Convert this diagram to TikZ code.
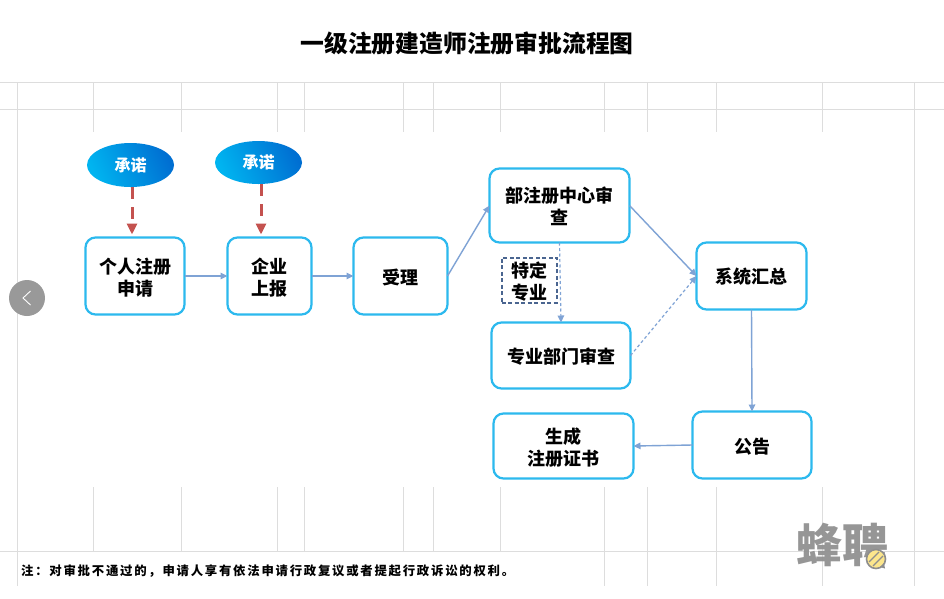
\documentclass[tikz,border=0pt]{standalone}
\usepackage{fontspec}
\usetikzlibrary{arrows.meta,calc,shapes.geometric}
\setmainfont{Noto Sans CJK SC}
\newfontfamily\notefont[LetterSpace=14]{Noto Sans CJK SC}
\definecolor{gridgrey}{HTML}{DDDDDD}
\definecolor{boxline}{HTML}{2CB9EE}
\definecolor{flowblue}{HTML}{7FA3D5}
\definecolor{tagline}{HTML}{4A6590}
\definecolor{pledgered}{HTML}{C4524F}
\definecolor{pledgelight}{HTML}{00B4F0}
\definecolor{pledgedark}{HTML}{006FD2}
\definecolor{markgrey}{HTML}{8E8E8E}
\definecolor{markyellow}{HTML}{FCE68C}
% extra height on a first line, which sets the label a little lower in its box
\newcommand{\lift}[1][19.5pt]{\rule{0pt}{#1}}
\tikzset{
  gridline/.style={draw=gridgrey,line width=1pt},
  stagebox/.style={draw=boxline,line width=2.2pt,rounded corners=10pt,fill=white,
    align=center,inner sep=0pt,outer sep=0pt,
    font=\fontsize{18}{22}\selectfont\bfseries},
  pledge/.style={ellipse,inner sep=0pt,outer sep=0pt,minimum width=87pt,minimum height=44pt,
    left color=pledgelight,right color=pledgedark,shading angle=115,text=white,
    font=\fontsize{16}{20}\selectfont\bfseries},
  tagbox/.style={draw=tagline,line width=2pt,dash pattern=on 4pt off 2.5pt,fill=white,
    align=center,inner sep=0pt,outer sep=0pt,minimum width=55pt,minimum height=45pt,
    font=\fontsize{18}{22}\selectfont\bfseries},
  flow/.style={draw=flowblue,line width=1.4pt,-{Triangle[length=7pt,width=6.5pt]}},
  flowdash/.style={flow,line width=1.2pt,dash pattern=on 3pt off 2.5pt},
  pledgeflow/.style={draw=pledgered,line width=3pt,dash pattern=on 12pt off 8pt,
    -{Triangle[length=11pt,width=10pt]}},
}
\begin{document}
\begin{tikzpicture}[x=1pt,y=-1pt]
  \useasboundingbox[fill=white] (0,0) rectangle (944,598);

  % ruled table behind the chart
  \foreach \yy in {82.5,109,551} \draw[gridline] (0,\yy) -- (944,\yy);
  \foreach \xx in {17,914.5} \draw[gridline] (\xx,82.5) -- (\xx,586);
  \foreach \xx in {93,181,277,304,403.5,433,500.6,604.7,647.4,716.8,822.6}
    \draw[gridline] (\xx,82.5) -- (\xx,132);
  \foreach \xx in {93,181,277,304,403.5,433,500.6}
    \draw[gridline] (\xx,487) -- (\xx,551);
  \foreach \xx in {604.7,647.4,716.8,822.6}
    \draw[gridline] (\xx,487) -- (\xx,586);

  \node[font=\fontsize{23.8}{28}\selectfont\bfseries] (title) at (467,43)
    {一级注册建造师注册审批流程图};

  % carousel button
  \node[circle,fill=black!40,minimum size=36pt,inner sep=0pt] (prev) at (27,298) {};
  \draw[white,line width=0.9pt] ($(prev)+(3.5,-7)$) -- ($(prev)+(-4,0)$) -- ($(prev)+(3.5,7)$);

  % process stages
  \node[stagebox,minimum width=99pt,minimum height=77pt]  (apply)  at (135,276) {\lift 个人注册\\申请};
  \node[stagebox,minimum width=84pt,minimum height=77pt]  (firm)   at (269.5,276) {\lift 企业\\上报};
  \node[stagebox,minimum width=94pt,minimum height=77pt]  (accept) at (400.5,276) {\lift[18pt]受理};
  \node[stagebox,minimum width=140pt,minimum height=74pt] (centre) at (559.5,205.5) {\lift[17pt]部注册中心审\\查};
  \node[stagebox,minimum width=139pt,minimum height=66pt] (dept)   at (561,355.5) {\lift[18pt]专业部门审查};
  \node[stagebox,minimum width=110pt,minimum height=67pt] (summary) at (751.5,276) {\lift[17pt]系统汇总};
  \node[stagebox,minimum width=119pt,minimum height=67pt] (notice) at (752,445) {\lift[18pt]公告};
  \node[stagebox,minimum width=140pt,minimum height=65pt] (cert)   at (563.5,446) {\lift 生成\\注册证书};

  \node[tagbox] (special) at (529,280) {\lift 特定\\专业};

  \node[pledge] (pledgeA) at (130.5,165) {承诺};
  \node[pledge,minimum height=43pt] (pledgeB) at (258.5,162.5) {承诺};

  % commitments feeding the first two stages
  \coordinate (pledgeAfoot) at ($(pledgeA.south)+(1.5,0)$);
  \coordinate (pledgeBfoot) at ($(pledgeB.south)+(2.5,0)$);
  \coordinate (applyhead) at (pledgeAfoot |- apply.north);
  \coordinate (firmhead) at (pledgeBfoot |- firm.north);
  \draw[pledgeflow,shorten >=3pt] (pledgeAfoot) -- (applyhead);
  \draw[pledgeflow,shorten >=3pt] (pledgeBfoot) -- (firmhead);

  % main flow
  \draw[flow] (apply.east) -- (firm.west);
  \draw[flow] (firm.east) -- (accept.west);
  \draw[flow] (accept.east) -- (centre.west);
  \draw[flow] (centre.east) -- (summary.west);
  \draw[flowdash] (centre.south) -- (dept.north);
  \draw[flowdash] (dept.east) -- (summary.west);
  \draw[flow] (summary.south) -- (notice.north);
  \draw[flow] (notice.west) -- (cert.east);

  \node[anchor=west,inner sep=0pt,font=\notefont\fontsize{12.4}{14}\selectfont\bfseries] (note) at (21,571)
    {注：对审批不通过的，申请人享有依法申请行政复议或者提起行政诉讼的权利。};

  % brand mark
  \node[text=markgrey,opacity=0.92,inner sep=0pt,font=\fontsize{46}{46}\selectfont\bfseries] (brand) at (842.5,545) {蜂聘};
  \node[circle,draw=markgrey,line width=1.6pt,fill=markyellow,minimum size=19pt,inner sep=0pt] (badge) at (876,559) {};
  \draw[markgrey,line width=1.3pt] ($(badge)+(-7,3)$) -- ($(badge)+(3,-7)$);
  \draw[markgrey,line width=1.3pt] ($(badge)+(-3,7)$) -- ($(badge)+(7,-3)$);
  \fill[markgrey] ($(badge)+(4,8)$) -- ($(badge)+(9,9.5)$) -- ($(badge)+(8,4)$) -- cycle;
\end{tikzpicture}
\end{document}
